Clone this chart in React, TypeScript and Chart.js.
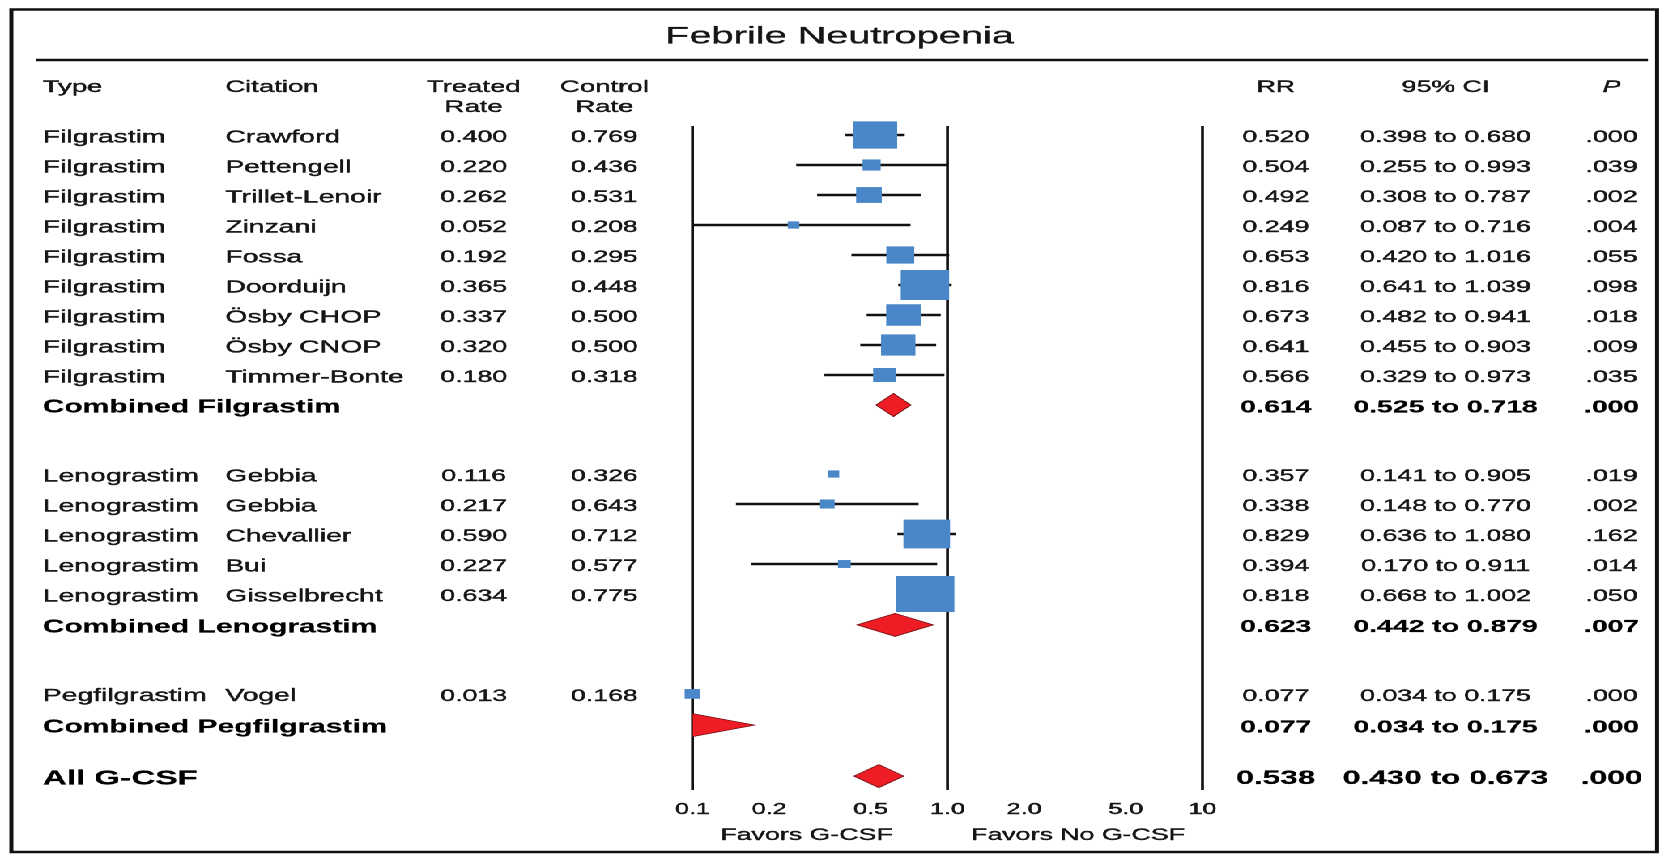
import React, { useEffect, useRef } from "react";
import { Chart, registerables } from "chart.js";

Chart.register(...registerables);

// ---------------- data ----------------
const chartTitle = "Febrile Neutropenia";

const studyTypes = [
  "Filgrastim", "Filgrastim", "Filgrastim", "Filgrastim", "Filgrastim",
  "Filgrastim", "Filgrastim", "Filgrastim", "Filgrastim",
  "Lenograstim", "Lenograstim", "Lenograstim", "Lenograstim", "Lenograstim",
  "Pegfilgrastim",
];
const studyCitations = [
  "Crawford", "Pettengell", "Trillet-Lenoir", "Zinzani", "Fossa",
  "Doorduijn", "Ösby CHOP", "Ösby CNOP", "Timmer-Bonte",
  "Gebbia", "Gebbia", "Chevallier", "Bui", "Gisselbrecht",
  "Vogel",
];
const treatedRates = [0.400, 0.220, 0.262, 0.052, 0.192, 0.365, 0.337, 0.320, 0.180, 0.116, 0.217, 0.590, 0.227, 0.634, 0.013];
const controlRates = [0.769, 0.436, 0.531, 0.208, 0.295, 0.448, 0.500, 0.500, 0.318, 0.326, 0.643, 0.712, 0.577, 0.775, 0.168];
const studyRR = [0.520, 0.504, 0.492, 0.249, 0.653, 0.816, 0.673, 0.641, 0.566, 0.357, 0.338, 0.829, 0.394, 0.818, 0.077];
const studyLow = [0.398, 0.255, 0.308, 0.087, 0.420, 0.641, 0.482, 0.455, 0.329, 0.141, 0.148, 0.636, 0.170, 0.668, 0.034];
const studyHigh = [0.680, 0.993, 0.787, 0.716, 1.016, 1.039, 0.941, 0.903, 0.973, 0.905, 0.770, 1.080, 0.911, 1.002, 0.175];
const studyP = [0.000, 0.039, 0.002, 0.004, 0.055, 0.098, 0.018, 0.009, 0.035, 0.019, 0.002, 0.162, 0.014, 0.050, 0.000];
const studyWeights = [76, 31, 44, 20, 48, 83, 60, 59, 39, 20, 25, 80, 22, 100, 27];
const whiskerShown = [true, true, true, true, true, true, true, true, true, false, true, true, true, true, false];

const pooledLabels = ["Combined Filgrastim", "Combined Lenograstim", "Combined Pegfilgrastim", "All G-CSF"];
const pooledRR = [0.614, 0.623, 0.077, 0.538];
const pooledLow = [0.525, 0.442, 0.034, 0.430];
const pooledHigh = [0.718, 0.879, 0.175, 0.673];
const pooledP = [0.000, 0.007, 0.000, 0.000];

const tickValues = [0.1, 0.2, 0.5, 1, 2, 5, 10];
const tickLabels = ["0.1", "0.2", "0.5", "1.0", "2.0", "5.0", "10"];
const refLineValues = [0.1, 1, 10];
const favorsLabels = ["Favors G-CSF", "Favors No G-CSF"];

const headerLeft = ["Type", "Citation"];
const headerRates = [["Treated", "Rate"], ["Control", "Rate"]];
const headerRight = ["RR", "95% CI", "P"];

// ---------------- layout ----------------
const STRETCH = 1.6195;
const CW = 1025;
const CH = 854;
const X_MIN = 0.1;
const X_MAX = 10;
const studyRows = [0, 1, 2, 3, 4, 5, 6, 7, 8, 11.3, 12.3, 13.3, 14.3, 15.3, 18.63];
const pooledRows = [9, 16.33, 19.67, 21.37];
const favorsAt = [0.28, 3.25];
const COL = { type: 26.4, cit: 139.1, treated: 292.5, control: 373.2, rr: 787.8, ci: 892.6, p: 995.1 };
const FONT = '"Liberation Sans", Arial, Helvetica, sans-serif';
const TEXT = "#161616";
const BOX_PER_WEIGHT = 0.36;
const DIAMOND_H = 23;

const fmt3 = (v: number) => v.toFixed(3);
const fmtP = (v: number) => v.toFixed(3).replace(/^0/, "");

function txt(ctx: CanvasRenderingContext2D, s: string, x: number, yMid: number, size: number,
  opts: { bold?: boolean; italic?: boolean; align?: CanvasTextAlign; color?: string; weight?: number } = {}) {
  ctx.font = `${opts.italic ? "italic " : ""}${opts.bold ? "bold " : ""}${size}px ${FONT}`;
  ctx.textAlign = opts.align || "left";
  ctx.textBaseline = "alphabetic";
  const color = opts.color || TEXT;
  ctx.fillStyle = color;
  const yb = yMid + (size * 0.716) / 2;
  ctx.fillText(s, x, yb);
  const w = opts.weight === undefined ? (opts.bold ? 0.2 : 0.4) : opts.weight;
  if (w > 0) {
    ctx.strokeStyle = color;
    ctx.lineWidth = w;
    ctx.lineJoin = "round";
    ctx.strokeText(s, x, yb);
  }
}

const forestPlugin = {
  id: "forestPlugin",
  beforeDatasetsDraw(chart: any) {
    const { ctx, chartArea, scales } = chart;
    const x = scales.x;
    ctx.save();
    ctx.strokeStyle = "#111";
    ctx.lineWidth = 1.8;
    refLineValues.forEach((v) => {
      const px = x.getPixelForValue(v);
      ctx.beginPath();
      ctx.moveTo(px, chartArea.top);
      ctx.lineTo(px, chartArea.bottom);
      ctx.stroke();
    });
    ctx.restore();
  },
  afterDatasetsDraw(chart: any) {
    const { ctx, scales } = chart;
    const x = scales.x;
    const y = scales.y;
    ctx.save();
    pooledRR.forEach((rr, i) => {
      const py = y.getPixelForValue(pooledRows[i]);
      const h = DIAMOND_H / 2;
      const pl = x.getPixelForValue(Math.max(pooledLow[i], X_MIN));
      const ph = x.getPixelForValue(pooledHigh[i]);
      ctx.beginPath();
      if (rr < X_MIN) {
        const pm = x.getPixelForValue(X_MIN);
        ctx.moveTo(pm, py - h);
        ctx.lineTo(ph, py);
        ctx.lineTo(pm, py + h);
      } else {
        const pc = x.getPixelForValue(rr);
        ctx.moveTo(pl, py);
        ctx.lineTo(pc, py - h);
        ctx.lineTo(ph, py);
        ctx.lineTo(pc, py + h);
      }
      ctx.closePath();
      ctx.fillStyle = "#ee1c24";
      ctx.fill();
      ctx.strokeStyle = "#7a1214";
      ctx.lineWidth = 0.8;
      ctx.stroke();
    });
    ctx.restore();
  },
  afterDraw(chart: any) {
    const { ctx, scales } = chart;
    const x = scales.x;
    const y = scales.y;
    ctx.save();
    // frame
    ctx.strokeStyle = "#111";
    ctx.lineWidth = 2.5;
    ctx.strokeRect(7.0, 9.5, 1023.2 - 7.0, 852 - 9.5);
    // rule under title
    ctx.lineWidth = 2.6;
    ctx.beginPath();
    ctx.moveTo(22.2, 60);
    ctx.lineTo(1017.6, 60);
    ctx.stroke();

    // title
    txt(ctx, chartTitle, 518.4, 34.7, 24.5, { align: "center", weight: 0.3 });

    // headers
    txt(ctx, headerLeft[0], COL.type, 86, 17);
    txt(ctx, headerLeft[1], COL.cit, 86, 17);
    txt(ctx, headerRates[0][0], COL.treated, 86, 17, { align: "center" });
    txt(ctx, headerRates[0][1], COL.treated, 106, 17, { align: "center" });
    txt(ctx, headerRates[1][0], COL.control, 86, 17, { align: "center" });
    txt(ctx, headerRates[1][1], COL.control, 106, 17, { align: "center" });
    txt(ctx, headerRight[0], COL.rr, 86, 16.5, { align: "center" });
    txt(ctx, headerRight[1], COL.ci, 86, 16.5, { align: "center" });
    txt(ctx, headerRight[2], COL.p, 86, 16.5, { align: "center", italic: true });

    // study rows
    studyCitations.forEach((c, i) => {
      const py = y.getPixelForValue(studyRows[i]) + 1;
      txt(ctx, studyTypes[i], COL.type, py, 17.5);
      txt(ctx, c, COL.cit, py, 17.5);
      txt(ctx, fmt3(treatedRates[i]), COL.treated, py, 16.5, { align: "center" });
      txt(ctx, fmt3(controlRates[i]), COL.control, py, 16.5, { align: "center" });
      txt(ctx, fmt3(studyRR[i]), COL.rr, py, 16.5, { align: "center" });
      txt(ctx, `${fmt3(studyLow[i])} to ${fmt3(studyHigh[i])}`, COL.ci, py, 16.5, { align: "center" });
      txt(ctx, fmtP(studyP[i]), COL.p, py, 16.5, { align: "center" });
    });

    // pooled rows
    pooledLabels.forEach((l, i) => {
      const last = i === pooledLabels.length - 1;
      const py = y.getPixelForValue(pooledRows[i]) + 1;
      txt(ctx, l, COL.type, py, last ? 20.5 : 18.5, { bold: true, color: "#000" });
      const s = last ? 19.5 : 17.5;
      txt(ctx, fmt3(pooledRR[i]), COL.rr, py, s, { align: "center", bold: true, color: "#000" });
      txt(ctx, `${fmt3(pooledLow[i])} to ${fmt3(pooledHigh[i])}`, COL.ci, py, s, { align: "center", bold: true, color: "#000" });
      txt(ctx, fmtP(pooledP[i]), COL.p, py, s, { align: "center", bold: true, color: "#000" });
    });

    // axis tick labels
    tickValues.forEach((v, i) => {
      txt(ctx, tickLabels[i], x.getPixelForValue(v), 808.7, 15.5, { align: "center" });
    });
    favorsLabels.forEach((l, i) => {
      txt(ctx, l, x.getPixelForValue(favorsAt[i]), 834, 16.5, { align: "center" });
    });
    ctx.restore();
  },
};

export default function App() {
  const canvasRef = useRef<HTMLCanvasElement | null>(null);

  useEffect(() => {
    if (!canvasRef.current) return;
    const boxData = studyRR.map((rr, i) => ({ x: Math.max(rr, X_MIN), y: studyRows[i] }));
    const datasets: any[] = [
      {
        label: "Studies",
        data: boxData,
        pointStyle: "rect",
        pointRadius: (c: any) => (studyWeights[c.dataIndex] * BOX_PER_WEIGHT) / Math.SQRT2,
        pointHoverRadius: (c: any) => (studyWeights[c.dataIndex] * BOX_PER_WEIGHT) / Math.SQRT2,
        backgroundColor: "#4a87c9",
        borderColor: "#4a87c9",
        borderWidth: 0,
        clip: false,
      },
    ];
    studyRR.forEach((_, i) => {
      if (!whiskerShown[i]) return;
      datasets.push({
        label: `CI ${studyCitations[i]}`,
        data: [
          { x: studyLow[i], y: studyRows[i] },
          { x: studyHigh[i], y: studyRows[i] },
        ],
        showLine: true,
        borderColor: "#111",
        borderWidth: 2.4,
        pointRadius: 0,
        pointHoverRadius: 0,
      });
    });

    const chart = new Chart(canvasRef.current, {
      type: "scatter",
      data: { datasets },
      plugins: [forestPlugin as any],
      options: {
        animation: false,
        responsive: true,
        maintainAspectRatio: false,
        devicePixelRatio: 2,
        events: [],
        layout: { padding: { left: 427.6, right: CW - 742.5, top: 126, bottom: CH - 790 } },
        scales: {
          x: { type: "logarithmic", min: X_MIN, max: X_MAX, display: false },
          y: { type: "linear", min: -0.3, max: 21.833, reverse: true, display: false },
        },
        plugins: { legend: { display: false }, tooltip: { enabled: false } },
      },
    });
    return () => chart.destroy();
  }, []);

  return (
    <div
      style={{
        position: "absolute",
        left: 0,
        top: 0,
        width: CW,
        height: CH,
        transform: `scaleX(${STRETCH})`,
        transformOrigin: "0 0",
        background: "#fff",
      }}
    >
      <canvas ref={canvasRef} />
    </div>
  );
}
